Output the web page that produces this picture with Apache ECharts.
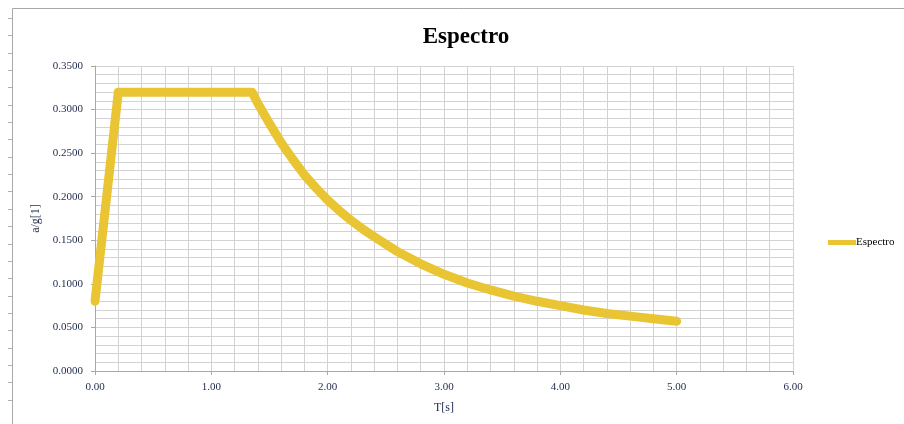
<!DOCTYPE html>
<html><head><meta charset="utf-8">
<script src="https://cdn.jsdelivr.net/npm/echarts@6/dist/echarts.min.js"></script>
<style>html,body{margin:0;padding:0;background:#fff}#c{width:904px;height:424px}</style>
</head><body><div id="c"></div>
<script>
const periods = [0, 0.2, 1.35, 1.4, 1.5, 1.6, 1.7, 1.8, 1.9, 2.0, 2.1, 2.2, 2.3, 2.4, 2.6, 2.8, 3.0, 3.2, 3.4, 3.6, 3.8, 4.0, 4.2, 4.4, 4.6, 4.8, 5.0];
const spectrum = [0.080, 0.320, 0.320, 0.307, 0.284, 0.262, 0.243, 0.225, 0.210, 0.196, 0.184, 0.173, 0.163, 0.154, 0.137, 0.123, 0.111, 0.101, 0.093, 0.086, 0.080, 0.075, 0.070, 0.066, 0.063, 0.060, 0.057];
const seriesName = 'Espectro';
const titleText = 'Espectro';
const xName = 'T[s]';
const yName = 'a/g[1]';

const font = '"Liberation Serif", "DejaVu Serif", serif';
const labelColor = '#1e2a4a';
const gridColor = '#d3d3d3';
const lineColor = '#E9C433';

const chart = echarts.init(document.getElementById('c'), null, {renderer: 'canvas'});
const data = periods.map((t, i) => [t, spectrum[i]]);

const sideTicks = [];
for (let y = 18; y <= 416; y += 17.35) {
  sideTicks.push({type: 'line', shape: {x1: 8, y1: Math.round(y) + 0.5, x2: 12, y2: Math.round(y) + 0.5}, style: {stroke: '#b0b0b0', lineWidth: 1}, silent: true});
}

chart.setOption({
  animation: false,
  backgroundColor: '#fff',
  title: {
    text: titleText, left: 461, top: 21, textAlign: 'center',
    textStyle: {fontFamily: font, fontWeight: 'bold', fontSize: 23, color: '#000'}
  },
  legend: {
    data: [seriesName], left: 823, top: 232, itemWidth: 28, itemHeight: 5, itemGap: 0,
    icon: 'rect',
    textStyle: {fontFamily: font, fontSize: 11, color: '#000', padding: [0, 0, 0, -5]}
  },
  grid: {left: 95, right: 111, top: 66, bottom: 53, containLabel: false},
  xAxis: {
    type: 'value', min: 0, max: 6, interval: 1,
    name: xName, nameLocation: 'middle', nameGap: 31,
    nameTextStyle: {fontFamily: font, fontSize: 12, color: labelColor},
    axisLine: {show: true, lineStyle: {color: '#a8a8a8', width: 1}},
    axisTick: {show: true, length: 4, lineStyle: {color: '#a8a8a8'}},
    axisLabel: {fontFamily: font, fontSize: 11, color: labelColor, margin: 11, formatter: v => v.toFixed(2)},
    splitLine: {show: true, lineStyle: {color: gridColor, width: 1}},
    minorTick: {show: false, splitNumber: 5},
    minorSplitLine: {show: true, lineStyle: {color: gridColor, width: 1}}
  },
  yAxis: {
    type: 'value', min: 0, max: 0.35, interval: 0.05,
    name: yName, nameLocation: 'middle', nameGap: 52, nameRotate: 90,
    nameTextStyle: {fontFamily: font, fontSize: 12, color: labelColor},
    axisLine: {show: true, lineStyle: {color: '#a8a8a8', width: 1}},
    axisTick: {show: true, length: 4, lineStyle: {color: '#a8a8a8'}},
    axisLabel: {fontFamily: font, fontSize: 11, color: labelColor, margin: 12, formatter: v => v.toFixed(4)},
    splitLine: {show: true, lineStyle: {color: gridColor, width: 1}},
    minorTick: {show: false, splitNumber: 5},
    minorSplitLine: {show: true, lineStyle: {color: gridColor, width: 1}}
  },
  series: [{
    name: seriesName, type: 'line', data: data,
    smooth: false, showSymbol: false, symbol: 'none',
    lineStyle: {color: lineColor, width: 9, cap: 'round', join: 'round'},
    itemStyle: {color: lineColor}
  }],
  graphic: [
    {type: 'line', shape: {x1: 12.5, y1: 8.5, x2: 904, y2: 8.5}, style: {stroke: '#a8a8a8', lineWidth: 1}, silent: true},
    {type: 'line', shape: {x1: 12.5, y1: 8.5, x2: 12.5, y2: 424}, style: {stroke: '#a8a8a8', lineWidth: 1}, silent: true}
  ].concat(sideTicks)
});
</script>
</body></html>
